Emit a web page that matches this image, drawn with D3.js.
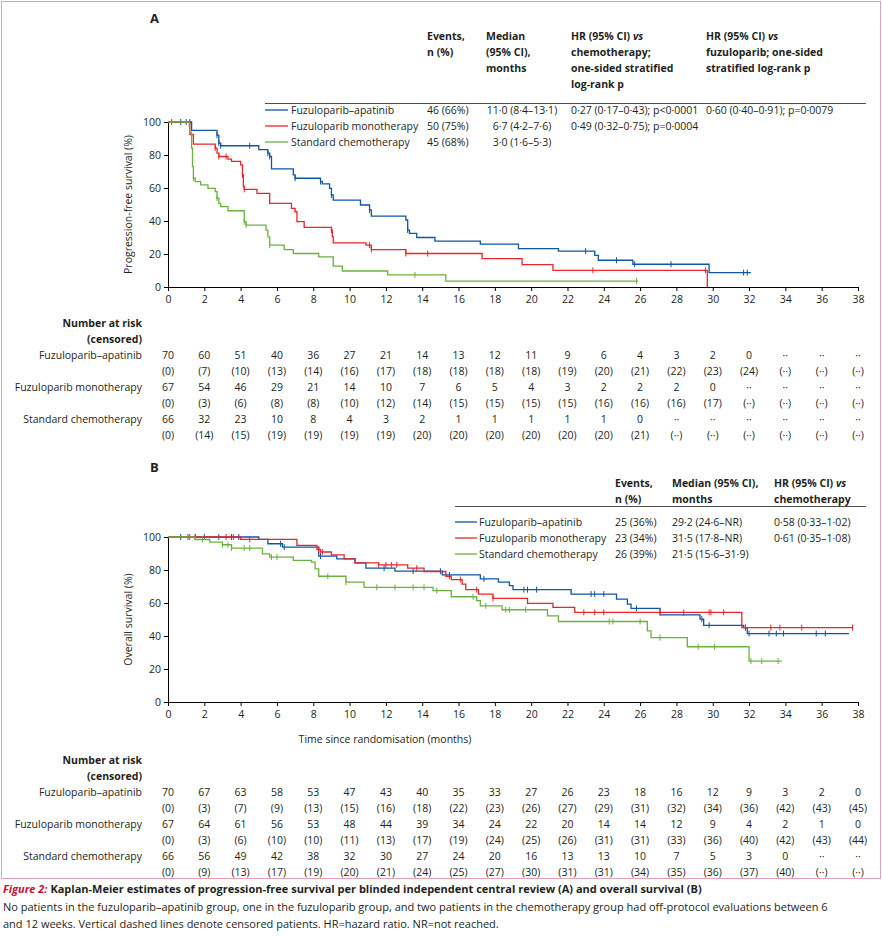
<!DOCTYPE html>
<html><head><meta charset="utf-8">
<script src="https://cdn.jsdelivr.net/npm/d3@7"></script>
<style>
body{margin:0;background:#fff;font-family:"Open Sans",sans-serif;}
text{font-family:"Open Sans",sans-serif;fill:#231f20;}
</style></head>
<body><div id="chart"></div>
<script>
var W = 882, H = 936;
var colors = ["#0f56a3", "#e8262b", "#6cb13e"];
var groups = ["Fuzuloparib–apatinib", "Fuzuloparib monotherapy", "Standard chemotherapy"];
var xTicks = d3.range(0, 39, 2);

// PFS steps [month, %]
var pfsApa = [[0,100],[1.3,94.9],[2.7,92],[2.8,87.2],[2.9,85.6],[5.0,83.2],[5.5,81.1],[5.6,79.1],[5.7,71.6],[6.9,68],[7.0,65.9],[8.4,63.9],[8.5,62.5],[8.9,59.8],[9.0,55.8],[9.1,52.7],[10.6,49.7],[11.1,46.7],[11.2,43],[13.1,40.6],[13.2,34.5],[13.3,32.5],[13.7,30],[14.7,27.8],[17.2,26],[19.3,23.3],[21.5,21.7],[23.5,19.2],[23.7,16.2],[25.6,13.8],[29.8,8.7],[32.1,8.7]];
var pfsMono = [[0,100],[1.2,92.3],[1.4,86.6],[2.6,84.2],[2.7,81.1],[2.8,79.1],[3.3,77.5],[3.5,76.1],[4.0,74],[4.1,68],[4.15,60.9],[4.2,59.2],[4.9,56.8],[5.6,50.7],[6.8,47.7],[7.0,45.6],[7.1,39.6],[7.5,36.1],[9.0,34.5],[9.05,30.4],[9.1,26.8],[10.9,25.4],[11.2,22.7],[13.1,20.3],[17.3,17.2],[19.5,13.6],[21.2,10.1],[29.7,0]];
var pfsChemo = [[0,100],[1.17,97.4],[1.2,93.3],[1.3,84.2],[1.35,73],[1.4,65.9],[1.5,63.9],[1.8,61.9],[2.2,59.8],[2.6,57.8],[2.7,53.8],[2.8,50.7],[2.9,48.7],[3.3,46.2],[4.2,39.6],[4.3,37.5],[5.4,34.5],[5.5,30.4],[5.6,25.4],[6.4,22.7],[6.9,20.3],[8.3,18.3],[9.1,12.6],[9.6,9.7],[12.1,7.3],[15.3,3.6],[25.9,3.6]];
var pfsCensApa = [0.7,1.0,1.2,2.7,2.8,2.9,4.5,5.5,5.6,7.0,8.4,9.0,11.1,13.2,23.0,24.7,25.7,27.7,31.7,31.9];
var pfsCensMono = [0.2,1.3,2.6,2.8,3.2,4.1,4.2,9.0,11.1,11.2,13.1,14.3,23.4,29.6];
var pfsCensChemo = [1.4,2.7,4.2,4.3,5.6,13.6,25.8];

// OS steps
var osApa = [[0,100],[5.0,98.6],[5.5,95.9],[6.3,93.9],[8.3,88.4],[9.3,86.8],[10.3,84.3],[10.9,81.1],[12.5,79.3],[15.1,77],[17.2,74.6],[18.2,72.6],[18.8,70.5],[19.0,68.1],[22.2,65.4],[24.7,62.4],[25.3,59.3],[25.5,56.7],[27.1,52.8],[29.3,50.2],[29.5,46.5],[31.7,45.1],[31.9,41.5],[37.5,41.5]];
var osMono = [[0,100],[4.0,98.6],[7.1,94.9],[8.2,92.5],[8.4,90.9],[9.0,89.2],[9.7,86.8],[10.3,84.3],[11.6,83.1],[13.2,81.1],[14.1,79.1],[15.3,76.2],[15.6,74.2],[16.2,71.5],[16.4,68.1],[17.1,65.4],[17.9,62.8],[19.8,59.8],[21.2,57.3],[22.4,54.3],[31.6,45.1],[37.7,45.1]];
var osChemo = [[0,100],[1.5,98.5],[2.3,96.9],[3.0,95.3],[3.5,93.3],[5.2,89.8],[5.6,87.8],[6.9,85.8],[7.9,84.8],[8.1,80.7],[8.3,76.2],[9.8,72.6],[10.8,69.5],[14.6,67.5],[15.6,63.8],[17.0,61.4],[17.2,58.3],[18.4,55.9],[20.9,52.2],[21.5,48.8],[26.4,43.1],[26.6,39],[28.6,33.5],[32.0,24.8],[33.8,24.8]];
var osCensApa = [0.7,1.1,1.5,2.0,2.8,3.5,3.9,6.2,6.4,8.4,11.9,13.5,15.0,15.5,17.4,19.6,19.8,20.3,23.3,23.5,24.0,25.8,29.4,29.8,31.8,32.0,33.1,33.5,33.9,35.7,36.2];
var osCensMono = [1.2,1.5,3.2,3.6,4.5,8.3,8.5,11.6,12.0,12.3,12.6,13.7,15.5,16.1,17.0,17.9,22.9,23.5,24.0,27.1,28.4,29.8,29.9,30.6,31.8,33.2,33.7,34.9,37.7];
var osCensChemo = [1.9,3.0,3.3,3.5,4.2,4.5,5.7,6.0,8.8,9.8,11.5,12.5,13.5,14.1,14.8,16.8,17.5,18.6,18.8,19.7,24.3,24.5,26.0,27.1,29.2,30.1,32.1,32.7,33.6];

var riskA = [
  ["70","60","51","40","36","27","21","14","13","12","11","9","6","4","3","2","0","··","··","··"],
  ["67","54","46","29","21","14","10","7","6","5","4","3","2","2","2","0","··","··","··","··"],
  ["66","32","23","10","8","4","3","2","1","1","1","1","1","0","··","··","··","··","··","··"]];
var censA = [
  ["0","7","10","13","14","16","17","18","18","18","18","19","20","21","22","23","24","··","··","··"],
  ["0","3","6","8","8","10","12","14","15","15","15","15","16","16","16","17","··","··","··","··"],
  ["0","14","15","19","19","19","19","20","20","20","20","20","20","21","··","··","··","··","··","··"]];
var riskB = [
  ["70","67","63","58","53","47","43","40","35","33","27","26","23","18","16","12","9","3","2","0"],
  ["67","64","61","56","53","48","44","39","34","24","22","20","14","14","12","9","4","2","1","0"],
  ["66","56","49","42","38","32","30","27","24","20","16","13","13","10","7","5","3","0","··","··"]];
var censB = [
  ["0","3","7","9","13","15","16","18","22","23","26","27","29","31","32","34","36","42","43","45"],
  ["0","3","6","10","10","11","13","17","19","24","25","26","31","31","33","36","40","42","43","44"],
  ["0","9","13","17","19","20","21","24","25","27","30","31","31","34","35","36","37","40","··","··"]];

var legA = [["46 (66%)","11·0 (8·4–13·1)","0·27 (0·17–0·43); p<0·0001","0·60 (0·40–0·91); p=0·0079"],
            ["50 (75%)","6·7 (4·2–7·6)","0·49 (0·32–0·75); p=0·0004",""],
            ["45 (68%)","3·0 (1·6–5·3)","",""]];
var legB = [["25 (36%)","29·2 (24·6–NR)","0·58 (0·33–1·02)"],
            ["23 (34%)","31·5 (17·8–NR)","0·61 (0·35–1·08)"],
            ["26 (39%)","21·5 (15·6–31·9)",""]];

var FS = 10.5;
var svg = d3.select("#chart").append("svg").attr("width", W).attr("height", H);
svg.append("rect").attr("x",1.5).attr("y",1.5).attr("width",W-3).attr("height",877)
  .attr("fill","none").attr("stroke","#e7a1b6").attr("stroke-width",1);

var x = d3.scaleLinear().domain([0, 38]).range([168, 858]);

function txt(g, xx, yy, s, opt) {
  opt = opt || {};
  var t = g.append("text").attr("x", xx).attr("y", yy).text(s)
    .attr("font-size", opt.size || FS).attr("text-anchor", opt.anchor || "start");
  if (opt.bold) t.attr("font-weight", "bold");
  if (opt.italic) t.attr("font-style", "italic");
  return t;
}

function panel(top, bottom, yTitle, series, cens) {
  var y = d3.scaleLinear().domain([0, 100]).range([bottom, top]);
  var g = svg.append("g");
  g.append("g").attr("transform", "translate(0," + bottom + ")")
    .call(d3.axisBottom(x).tickValues(xTicks).tickSize(4).tickSizeOuter(0))
    .call(function (a) { a.selectAll("text").attr("font-size", FS).attr("dy", "0.9em"); });
  g.append("g").attr("transform", "translate(168,0)")
    .call(d3.axisLeft(y).tickValues([0,20,40,60,80,100]).tickSize(4).tickSizeOuter(0))
    .call(function (a) { a.selectAll("text").attr("font-size", FS); });
  g.append("text").attr("transform", "translate(132," + ((top + bottom) / 2) + ") rotate(-90)")
    .attr("text-anchor", "middle").attr("font-size", FS).text(yTitle);
  var line = d3.line().x(function (d) { return x(d[0]); }).y(function (d) { return y(d[1]); }).curve(d3.curveStepAfter);
  series.forEach(function (s, i) {
    g.append("path").datum(s).attr("d", line).attr("fill", "none")
      .attr("stroke", colors[i]).attr("stroke-width", 1.3);
    g.selectAll(null).data(cens[i]).enter().append("line")
      .attr("x1", function (d) { return x(d); }).attr("x2", function (d) { return x(d); })
      .attr("y1", function (d) { return y(survAt(s, d)) - 3; })
      .attr("y2", function (d) { return y(survAt(s, d)) + 3; })
      .attr("stroke", colors[i]).attr("stroke-width", 1);
  });
}
function survAt(s, t) {
  var v = s[0][1];
  s.forEach(function (p) { if (p[0] <= t) v = p[1]; });
  return v;
}

function riskTable(top, risk, cens) {
  txt(svg, 142, top, "Number at risk", {anchor: "end", bold: true});
  txt(svg, 142, top + 16, "(censored)", {anchor: "end", bold: true});
  groups.forEach(function (gname, i) {
    var yy = top + 32 + i * 32;
    txt(svg, 142, yy, gname, {anchor: "end"});
    risk[i].forEach(function (v, j) { txt(svg, x(xTicks[j]), yy, v, {anchor: "middle"}); });
    cens[i].forEach(function (v, j) { txt(svg, x(xTicks[j]), yy + 16, "(" + v + ")", {anchor: "middle"}); });
  });
}

function header(h, top) {
  h[1].forEach(function (l, k) {
    var t = txt(svg, h[0], top + k * 16, "", {bold: true});
    if (l.indexOf(" vs") > 0) { t.text(l.replace(" vs", " ")); t.append("tspan").attr("font-style", "italic").text("vs"); }
    else t.text(l);
  });
}

// Panel A
txt(svg, 150, 23, "A", {bold: true, size: 13});
var hA = [[427, ["Events,","n (%)"]],[486, ["Median","(95% CI),","months"]],[571, ["HR (95% CI) vs","chemotherapy;","one-sided stratified","log-rank p"]],[706, ["HR (95% CI) vs","fuzuloparib; one-sided","stratified log-rank p"]]];
hA.forEach(function (h) { header(h, 40); });
svg.append("line").attr("x1", 265).attr("x2", 866).attr("y1", 103.5).attr("y2", 103.5).attr("stroke", "#231f20").attr("stroke-width", 0.8);
groups.forEach(function (gname, i) {
  var yy = 114 + i * 16;
  svg.append("line").attr("x1", 265).attr("x2", 288).attr("y1", yy - 4).attr("y2", yy - 4).attr("stroke", colors[i]).attr("stroke-width", 1.3);
  txt(svg, 291, yy, gname);
  txt(svg, 427, yy, legA[i][0]);
  txt(svg, 522, yy, legA[i][1], {anchor: "middle"});
  txt(svg, 571, yy, legA[i][2]);
  txt(svg, 706, yy, legA[i][3]);
});
panel(122, 287, "Progression-free survival (%)", [pfsApa, pfsMono, pfsChemo], [pfsCensApa, pfsCensMono, pfsCensChemo]);
riskTable(327, riskA, censA);

// Panel B
txt(svg, 150, 472, "B", {bold: true, size: 13});
var hB = [[615, ["Events,","n (%)"]],[672, ["Median (95% CI),","months"]],[774, ["HR (95% CI) vs","chemotherapy"]]];
hB.forEach(function (h) { header(h, 487); });
svg.append("line").attr("x1", 455).attr("x2", 866).attr("y1", 506.5).attr("y2", 506.5).attr("stroke", "#231f20").attr("stroke-width", 0.8);
groups.forEach(function (gname, i) {
  var yy = 526 + i * 16;
  svg.append("line").attr("x1", 455).attr("x2", 477).attr("y1", yy - 4).attr("y2", yy - 4).attr("stroke", colors[i]).attr("stroke-width", 1.3);
  txt(svg, 479, yy, gname);
  txt(svg, 615, yy, legB[i][0]);
  txt(svg, 672, yy, legB[i][1]);
  txt(svg, 774, yy, legB[i][2]);
});
panel(537, 702, "Overall survival (%)", [osApa, osMono, osChemo], [osCensApa, osCensMono, osCensChemo]);
txt(svg, 385, 743, "Time since randomisation (months)", {anchor: "middle"});
riskTable(764, riskB, censB);

// caption
var c1 = txt(svg, 3, 893, "", {size: 11, bold: true});
c1.append("tspan").attr("font-style", "italic").attr("fill", "#c8102e").text("Figure 2: ");
c1.append("tspan").text("Kaplan-Meier estimates of progression-free survival per blinded independent central review (A) and overall survival (B)");
txt(svg, 3, 911, "No patients in the fuzuloparib–apatinib group, one in the fuzuloparib group, and two patients in the chemotherapy group had off-protocol evaluations between 6", {size: 11});
txt(svg, 3, 928, "and 12 weeks. Vertical dashed lines denote censored patients. HR=hazard ratio. NR=not reached.", {size: 11});
</script></body></html>
